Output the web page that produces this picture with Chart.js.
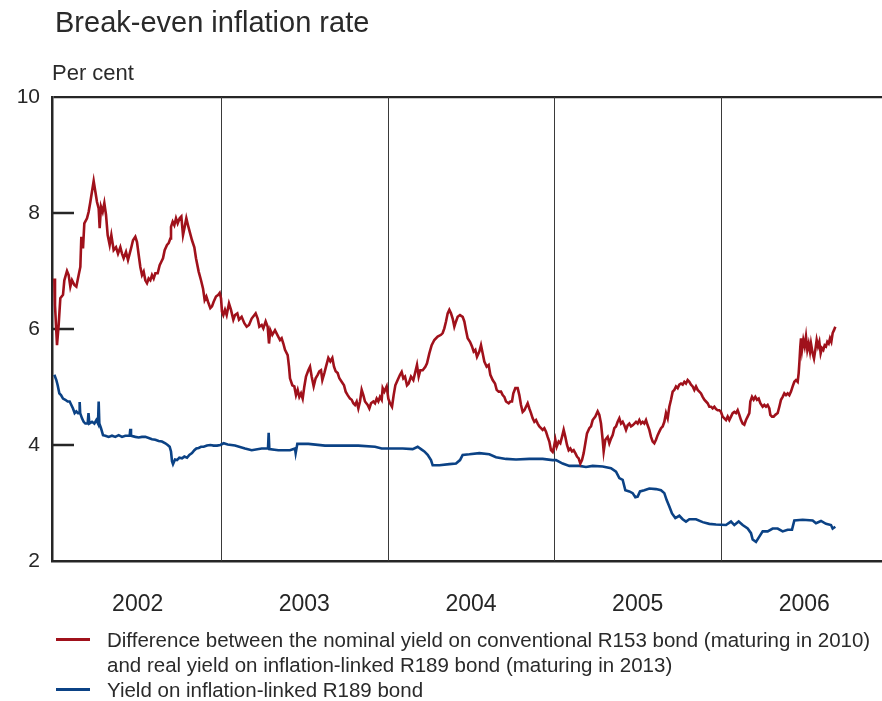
<!DOCTYPE html>
<html>
<head>
<meta charset="utf-8">
<script src="https://cdn.jsdelivr.net/npm/chart.js@4/dist/chart.umd.min.js"></script>
<style>
  html, body { margin: 0; padding: 0; background: #fff; }
  #wrap { position: relative; width: 882px; height: 701px; overflow: hidden; font-family: "Liberation Sans", Arial, sans-serif; color: #2a2a2a; }
  #c { position: absolute; left: 0; top: 0; }
  .txt { position: absolute; white-space: nowrap; }
  #title { left: 55px; top: 6px; font-size: 29px; line-height: 32px; }
  #unit { left: 52px; top: 60px; font-size: 22px; line-height: 26px; }
  #legend { position: absolute; left: 56px; top: 627px; font-size: 20.5px; line-height: 25px; }
  .row { position: relative; padding-left: 51px; white-space: nowrap; }
  .sw { position: absolute; left: 0; top: 11px; width: 34px; height: 3px; }
</style>
</head>
<body>
<div id="wrap">
  <canvas id="c" width="882" height="701"></canvas>
  <div class="txt" id="title">Break-even inflation rate</div>
  <div class="txt" id="unit">Per cent</div>
  <div id="legend"></div>
</div>
<script>
// ---- data (decimal years, per cent) ----
const yearLabels = ['2002', '2003', '2004', '2005', '2006'];
const yearBoundaries = [2003, 2004, 2005, 2006];
const yTicks = [2, 4, 6, 8, 10];
const seriesNames = [
  'Difference between the nominal yield on conventional R153 bond (maturing in 2010)\nand real yield on inflation-linked R189 bond (maturing in 2013)',
  'Yield on inflation-linked R189 bond'
];

const breakEvenYears = [
2002.000,2002.004,2002.016,2002.026,2002.036,2002.052,2002.060,2002.076,2002.086,2002.096,2002.106,2002.120,2002.132,2002.146,2002.156,2002.162,2002.172,2002.180,2002.196,2002.206,
2002.216,2002.226,2002.236,2002.246,2002.256,2002.266,2002.272,2002.280,2002.290,2002.300,2002.310,2002.320,2002.332,2002.342,2002.356,2002.370,2002.382,2002.396,2002.406,2002.416,
2002.430,2002.442,2002.452,2002.462,2002.472,2002.486,2002.496,2002.506,2002.516,2002.526,2002.536,2002.546,2002.556,2002.566,2002.576,2002.586,2002.596,2002.606,2002.620,2002.632,
2002.642,2002.652,2002.662,2002.676,2002.686,2002.696,2002.700,2002.710,2002.720,2002.730,2002.740,2002.752,2002.762,2002.772,2002.782,2002.792,2002.802,2002.812,2002.826,2002.840,
2002.850,2002.866,2002.880,2002.892,2002.902,2002.912,2002.922,2002.936,2002.946,2002.956,2002.970,2002.984,2002.992,2003.000,2003.006,2003.014,2003.024,2003.034,2003.048,2003.060,
2003.074,2003.084,2003.098,2003.108,2003.124,2003.140,2003.154,2003.168,2003.184,2003.208,2003.220,2003.230,2003.244,2003.254,2003.268,2003.280,2003.288,2003.296,2003.308,2003.324,
2003.338,2003.354,2003.364,2003.374,2003.384,2003.400,2003.408,2003.414,2003.428,2003.440,2003.450,2003.460,2003.470,2003.480,2003.490,2003.500,2003.510,2003.524,2003.534,2003.544,
2003.556,2003.568,2003.580,2003.590,2003.600,2003.608,2003.620,2003.630,2003.644,2003.656,2003.668,2003.678,2003.688,2003.700,2003.710,2003.724,2003.738,2003.748,2003.760,2003.774,
2003.784,2003.794,2003.804,2003.814,2003.824,2003.834,2003.844,2003.854,2003.864,2003.880,2003.890,2003.900,2003.914,2003.924,2003.934,2003.944,2003.954,2003.964,2003.970,2003.980,
2003.994,2004.004,2004.014,2004.026,2004.036,2004.046,2004.060,2004.074,2004.084,2004.094,2004.104,2004.116,2004.126,2004.140,2004.154,2004.166,2004.176,2004.186,2004.196,2004.210,
2004.226,2004.236,2004.250,2004.264,2004.280,2004.300,2004.320,2004.330,2004.340,2004.350,2004.360,2004.370,2004.380,2004.390,2004.400,2004.410,2004.420,2004.434,2004.450,2004.460,
2004.470,2004.480,2004.494,2004.506,2004.516,2004.526,2004.536,2004.550,2004.560,2004.570,2004.580,2004.594,2004.606,2004.616,2004.630,2004.644,2004.654,2004.666,2004.680,2004.690,
2004.700,2004.710,2004.726,2004.736,2004.746,2004.754,2004.766,2004.780,2004.790,2004.800,2004.810,2004.820,2004.830,2004.840,2004.850,2004.860,2004.870,2004.880,2004.890,2004.900,
2004.910,2004.920,2004.930,2004.940,2004.950,2004.960,2004.970,2004.980,2004.990,2004.996,2005.006,2005.014,2005.026,2005.036,2005.046,2005.056,2005.066,2005.076,2005.086,2005.096,
2005.106,2005.116,2005.126,2005.136,2005.146,2005.156,2005.166,2005.176,2005.186,2005.196,2005.210,2005.220,2005.230,2005.246,2005.260,2005.270,2005.280,2005.290,2005.296,2005.306,
2005.320,2005.330,2005.340,2005.350,2005.360,2005.370,2005.380,2005.390,2005.400,2005.410,2005.420,2005.430,2005.440,2005.450,2005.460,2005.470,2005.480,2005.490,2005.500,2005.510,
2005.520,2005.530,2005.540,2005.550,2005.560,2005.570,2005.580,2005.590,2005.600,2005.610,2005.620,2005.630,2005.640,2005.650,2005.660,2005.670,2005.680,2005.690,2005.700,2005.710,
2005.720,2005.730,2005.740,2005.750,2005.760,2005.770,2005.780,2005.790,2005.800,2005.810,2005.820,2005.830,2005.840,2005.850,2005.860,2005.870,2005.880,2005.890,2005.900,2005.910,
2005.920,2005.930,2005.940,2005.950,2005.960,2005.970,2005.980,2005.990,2006.000,2006.010,2006.020,2006.030,2006.040,2006.050,2006.060,2006.070,2006.080,2006.090,2006.100,2006.110,
2006.120,2006.130,2006.140,2006.150,2006.160,2006.170,2006.176,2006.186,2006.196,2006.206,2006.216,2006.226,2006.236,2006.250,2006.260,2006.270,2006.280,2006.290,2006.296,2006.306,
2006.316,2006.326,2006.340,2006.350,2006.360,2006.370,2006.380,2006.390,2006.400,2006.410,2006.420,2006.430,2006.440,2006.450,2006.460,2006.466,2006.470,2006.476,2006.480,2006.486,
2006.494,2006.502,2006.510,2006.518,2006.526,2006.534,2006.540,2006.550,2006.558,2006.566,2006.574,2006.582,2006.590,2006.598,2006.606,2006.614,2006.622,2006.630,2006.638,2006.646,
2006.654,2006.662,2006.670,2006.678,2006.686
];
const breakEvenValues = [
6.87,6.41,5.72,6.07,6.53,6.59,6.84,7.00,6.93,6.73,6.84,6.76,6.73,6.93,7.07,7.59,7.39,7.82,7.91,8.02,
8.19,8.37,8.55,8.37,8.19,8.08,7.74,8.11,8.02,8.17,7.97,7.62,7.45,7.62,7.36,7.41,7.30,7.41,7.30,7.22,
7.33,7.19,7.30,7.41,7.53,7.59,7.50,7.28,7.07,6.93,6.99,6.84,6.79,6.87,6.84,6.93,6.87,6.96,6.96,7.10,
7.16,7.22,7.36,7.45,7.48,7.56,7.76,7.85,7.79,7.91,7.82,7.91,7.94,7.62,7.76,7.91,7.79,7.68,7.53,7.41,
7.22,6.99,6.84,6.70,6.50,6.56,6.47,6.36,6.39,6.47,6.56,6.59,6.62,6.53,6.30,6.24,6.33,6.24,6.44,6.33,
6.16,6.24,6.27,6.16,6.21,6.10,6.04,6.07,6.18,6.27,6.18,6.04,6.07,6.01,6.13,6.04,5.75,5.98,5.90,5.98,
5.90,5.81,5.84,5.75,5.64,5.55,5.35,5.15,5.03,5.01,4.86,4.95,4.83,4.89,4.80,5.01,5.18,5.29,5.35,5.18,
5.01,5.15,5.21,5.27,5.29,5.12,5.24,5.35,5.50,5.44,5.50,5.35,5.27,5.24,5.15,5.09,5.03,4.92,4.86,4.80,
4.78,4.72,4.69,4.75,4.63,4.75,4.95,4.86,4.75,4.69,4.63,4.72,4.75,4.72,4.80,4.75,4.83,4.78,4.98,4.92,
5.01,4.80,4.72,4.66,4.86,5.03,5.12,5.21,5.26,5.15,5.18,5.03,5.06,5.18,5.12,5.26,5.38,5.18,5.29,5.29,
5.35,5.41,5.58,5.72,5.81,5.87,5.90,5.93,6.01,6.13,6.27,6.33,6.27,6.18,6.04,6.13,6.21,6.24,6.21,6.13,
5.98,5.84,5.78,5.70,5.61,5.64,5.52,5.61,5.72,5.58,5.44,5.35,5.38,5.21,5.12,5.06,4.95,4.92,4.92,4.86,
4.83,4.75,4.72,4.75,4.75,4.89,4.98,4.98,4.86,4.69,4.57,4.60,4.66,4.72,4.63,4.55,4.46,4.40,4.43,4.37,
4.32,4.29,4.26,4.29,4.23,4.14,4.06,3.91,3.88,3.94,4.09,3.97,4.06,4.03,4.14,4.26,4.14,4.00,3.91,3.94,
3.89,3.91,3.86,3.80,3.77,3.68,3.74,3.86,4.03,4.20,4.29,4.32,4.43,4.49,4.58,4.52,4.37,4.09,3.89,4.09,
4.14,4.03,4.11,4.17,4.29,4.32,4.40,4.46,4.37,4.40,4.34,4.26,4.34,4.37,4.32,4.34,4.37,4.40,4.37,4.43,
4.37,4.40,4.37,4.43,4.34,4.26,4.14,4.06,4.03,4.09,4.17,4.23,4.29,4.32,4.40,4.55,4.46,4.66,4.78,4.92,
4.95,5.01,4.98,5.04,5.06,5.04,5.09,5.06,5.12,5.09,5.04,5.01,4.95,5.01,4.95,4.92,4.89,4.83,4.78,4.75,
4.72,4.66,4.66,4.63,4.66,4.62,4.60,4.60,4.57,4.49,4.46,4.43,4.49,4.43,4.49,4.55,4.57,4.55,4.60,4.52,
4.43,4.37,4.35,4.43,4.49,4.55,4.75,4.83,4.78,4.83,4.78,4.80,4.72,4.66,4.69,4.66,4.69,4.63,4.52,4.49,
4.49,4.52,4.55,4.66,4.78,4.83,4.89,4.86,4.89,4.86,4.92,5.01,5.09,5.12,5.09,5.24,5.41,5.70,5.84,5.64,
5.81,5.70,5.87,5.64,5.75,5.61,5.75,5.58,5.49,5.64,5.81,5.70,5.78,5.58,5.67,5.64,5.72,5.70,5.78,5.75,
5.84,5.78,5.93,5.98,6.04
];

const realYieldYears = [
2002.000,2002.012,2002.020,2002.030,2002.040,2002.052,2002.066,2002.080,2002.092,2002.102,2002.112,2002.122,2002.132,2002.142,2002.150,2002.152,2002.155,2002.166,2002.176,2002.186,
2002.200,2002.205,2002.210,2002.226,2002.240,2002.252,2002.262,2002.266,2002.270,2002.280,2002.292,2002.306,2002.326,2002.346,2002.366,2002.386,2002.406,2002.426,2002.452,2002.456,
2002.460,2002.486,2002.506,2002.526,2002.546,2002.566,2002.586,2002.606,2002.626,2002.646,2002.666,2002.680,2002.692,2002.700,2002.706,2002.712,2002.724,2002.736,2002.750,2002.766,
2002.780,2002.796,2002.810,2002.826,2002.840,2002.852,2002.866,2002.880,2002.896,2002.916,2002.936,2002.956,2002.976,2002.996,2003.016,2003.040,2003.084,2003.144,2003.184,2003.244,
2003.282,2003.286,2003.290,2003.344,2003.414,2003.444,2003.448,2003.458,2003.524,2003.624,2003.724,2003.824,2003.924,2003.964,2004.030,2004.090,2004.150,2004.180,2004.200,2004.220,
2004.240,2004.260,2004.270,2004.310,2004.370,2004.410,2004.434,2004.450,2004.490,2004.550,2004.610,2004.650,2004.710,2004.770,2004.850,2004.930,2004.990,2005.010,2005.050,2005.090,
2005.150,2005.190,2005.230,2005.290,2005.340,2005.370,2005.390,2005.410,2005.426,2005.450,2005.470,2005.486,2005.500,2005.514,2005.540,2005.570,2005.610,2005.640,2005.660,2005.674,
2005.690,2005.706,2005.726,2005.750,2005.770,2005.790,2005.810,2005.850,2005.890,2005.930,2005.970,2006.030,2006.060,2006.080,2006.106,2006.130,2006.160,2006.180,2006.190,2006.210,
2006.230,2006.250,2006.280,2006.310,2006.340,2006.370,2006.400,2006.426,2006.440,2006.490,2006.550,2006.570,2006.600,2006.630,2006.660,2006.670,2006.686
];
const realYieldValues = [
5.21,5.12,5.03,4.89,4.86,4.80,4.78,4.75,4.75,4.69,4.63,4.55,4.58,4.55,4.55,4.74,4.55,4.46,4.40,4.37,
4.37,4.55,4.37,4.40,4.37,4.43,4.37,4.75,4.37,4.29,4.17,4.16,4.14,4.16,4.14,4.17,4.14,4.16,4.16,4.28,
4.16,4.14,4.13,4.14,4.14,4.12,4.10,4.09,4.07,4.06,4.03,4.00,3.97,3.89,3.72,3.67,3.75,3.74,3.78,3.77,
3.80,3.78,3.83,3.86,3.91,3.94,3.95,3.97,3.97,3.99,4.00,3.99,3.99,4.00,4.03,4.01,3.99,3.94,3.91,3.94,
3.94,4.21,3.93,3.91,3.91,3.94,3.86,4.02,4.02,3.99,3.99,3.99,3.97,3.94,3.94,3.94,3.93,3.97,3.93,3.89,
3.83,3.74,3.65,3.65,3.67,3.68,3.74,3.83,3.84,3.86,3.84,3.79,3.76,3.75,3.76,3.76,3.74,3.74,3.68,3.64,
3.64,3.62,3.64,3.63,3.60,3.54,3.43,3.40,3.22,3.20,3.17,3.10,3.11,3.20,3.22,3.25,3.24,3.22,3.17,3.05,
2.94,2.82,2.74,2.78,2.72,2.68,2.72,2.72,2.67,2.64,2.63,2.62,2.68,2.62,2.68,2.62,2.56,2.48,2.37,2.33,
2.42,2.51,2.51,2.56,2.56,2.51,2.54,2.54,2.70,2.71,2.70,2.65,2.69,2.64,2.62,2.56,2.59
];

const xMin = 2001.986, xMax = 2006.966;
const RED = '#a0111b';
const BLUE = '#0b4285';
const INK = '#262626';
const FONT = '"Liberation Sans", Arial, sans-serif';

// legend (HTML text)
const legendColors = [RED, BLUE];
const legendEl = document.getElementById('legend');
seriesNames.forEach((name, i) => {
  const row = document.createElement('div');
  row.className = 'row';
  const sw = document.createElement('div');
  sw.className = 'sw';
  sw.style.background = legendColors[i];
  row.appendChild(sw);
  name.split('\n').forEach((ln, j) => {
    if (j) row.appendChild(document.createElement('br'));
    row.appendChild(document.createTextNode(ln));
  });
  legendEl.appendChild(row);
});

const zip = (xs, ys) => xs.map((x, i) => ({ x: x, y: ys[i] }));

const framePlugin = {
  id: 'frame',
  beforeDatasetsDraw(chart) {
    const { ctx, chartArea, scales } = chart;
    ctx.save();
    ctx.strokeStyle = '#3a3a3a';
    ctx.lineWidth = 1;
    yearBoundaries.forEach(v => {
      const px = Math.round(scales.x.getPixelForValue(v)) + 0.5;
      ctx.beginPath();
      ctx.moveTo(px, chartArea.top);
      ctx.lineTo(px, chartArea.bottom);
      ctx.stroke();
    });
    ctx.strokeStyle = INK;
    ctx.lineWidth = 2.5;
    yTicks.forEach(v => {
      if (v === 2 || v === 10) return;
      const py = scales.y.getPixelForValue(v);
      ctx.beginPath();
      ctx.moveTo(chartArea.left, py);
      ctx.lineTo(chartArea.left + 22, py);
      ctx.stroke();
    });
    ctx.restore();
  }
};

new Chart(document.getElementById('c'), {
  type: 'line',
  data: {
    datasets: [
      { label: 'Break-even', data: zip(breakEvenYears, breakEvenValues), borderColor: RED, borderWidth: 2.6, pointRadius: 0, tension: 0, fill: false },
      { label: 'R189', data: zip(realYieldYears, realYieldValues), borderColor: BLUE, borderWidth: 2.6, pointRadius: 0, tension: 0, fill: false }
    ]
  },
  options: {
    responsive: false,
    animation: false,
    devicePixelRatio: 1,
    layout: { padding: { top: 97, left: 0, right: 0, bottom: 0 } },
    plugins: { legend: { display: false }, tooltip: { enabled: false }, title: { display: false } },
    scales: {
      x: {
        type: 'linear',
        min: xMin, max: xMax,
        afterFit(s) { s.height = 140; },
        afterBuildTicks(s) { s.ticks = yearLabels.map((l, i) => ({ value: +l + 0.5 })); },
        ticks: {
          callback: (v, i) => yearLabels[i],
          font: { family: FONT, size: 23 },
          color: INK,
          padding: 30,
          maxRotation: 0,
          autoSkip: false
        },
        grid: { display: false, drawTicks: false },
        border: { display: true, color: INK, width: 2.5 }
      },
      y: {
        min: 2, max: 10,
        afterFit(s) { s.width = 52; },
        afterBuildTicks(s) { s.ticks = yTicks.map(v => ({ value: v })); },
        ticks: {
          font: { family: FONT, size: 21 },
          color: INK,
          padding: 12
        },
        grid: {
          drawTicks: false,
          color: c => (c.tick && c.tick.value === 10) ? INK : 'rgba(0,0,0,0)',
          lineWidth: c => (c.tick && c.tick.value === 10) ? 2.2 : 0
        },
        border: { display: true, color: INK, width: 2.5 }
      }
    }
  },
  plugins: [framePlugin]
});
</script>
</body>
</html>
